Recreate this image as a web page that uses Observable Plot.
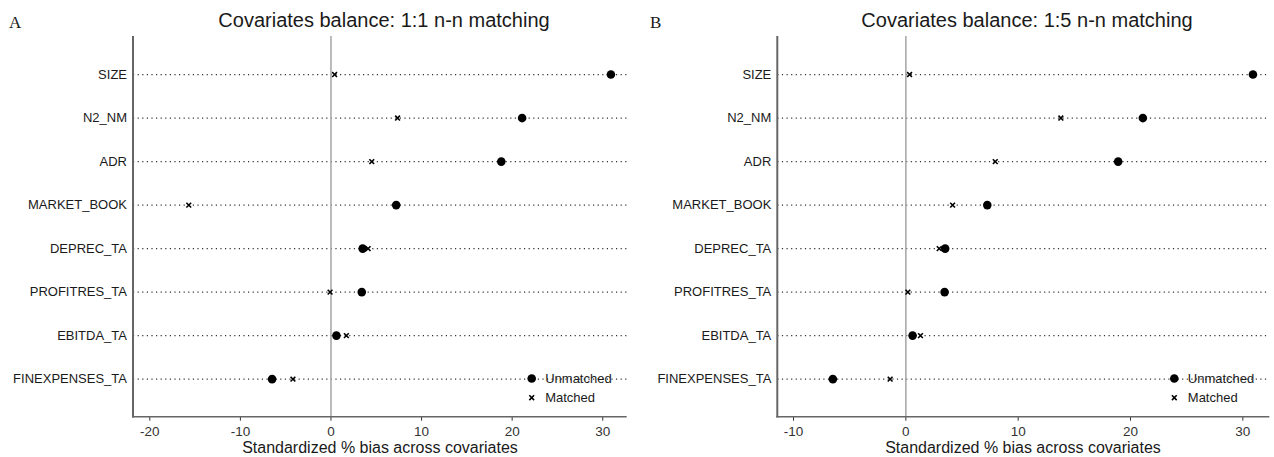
<!DOCTYPE html>
<html>
<head>
<meta charset="utf-8">
<script src="https://cdn.jsdelivr.net/npm/d3@7"></script>
<script src="https://cdn.jsdelivr.net/npm/@observablehq/plot@0.6"></script>
<style>
  html, body { margin: 0; padding: 0; background: #fff; }
  #wrap { position: relative; width: 1274px; height: 457px; overflow: hidden; background: #fff; }
  .panel { position: absolute; top: 0; }
  #overlay { position: absolute; left: 0; top: 0; pointer-events: none; }
</style>
</head>
<body>
<div id="wrap">
  <div class="panel" id="pA" style="left:0px"></div>
  <div class="panel" id="pB" style="left:637px"></div>
  <svg id="overlay" width="1274" height="457"></svg>
</div>
<script>
// ---- data ----
const covariates = ["SIZE", "N2_NM", "ADR", "MARKET_BOOK", "DEPREC_TA", "PROFITRES_TA", "EBITDA_TA", "FINEXPENSES_TA"];

// Panel A: 1:1 n-n matching
const unmatchedA = [30.9, 21.1, 18.8, 7.2, 3.5, 3.4, 0.6, -6.5];
const matchedA   = [0.4, 7.35, 4.5, -15.7, 4.1, -0.1, 1.7, -4.2];
const ticksA = [-20, -10, 0, 10, 20, 30];

// Panel B: 1:5 n-n matching
const unmatchedB = [30.9, 21.1, 18.9, 7.25, 3.5, 3.45, 0.6, -6.5];
const matchedB   = [0.33, 13.8, 7.96, 4.16, 2.97, 0.18, 1.3, -1.4];
const ticksB = [-10, 0, 10, 20, 30];

const titles = ["Covariates balance: 1:1 n-n matching", "Covariates balance: 1:5 n-n matching"];
const panelLetters = ["A", "B"];
const xLabel = "Standardized % bias across covariates";
const legendLabels = ["Unmatched", "Matched"];

const FONT = "'Liberation Sans', Arial, Helvetica, sans-serif";

function panel(el, unmatched, matched, ticks, domain, marginLeft, marginRight) {
  const rows = covariates.map((c, i) => ({cat: c, unmatched: unmatched[i], matched: matched[i]}));
  const chart = Plot.plot({
    width: 637,
    height: 457,
    marginTop: 36,
    marginBottom: 40.3,
    marginLeft,
    marginRight,
    style: {fontFamily: FONT, background: "transparent", color: "#1a1a1a", overflow: "visible"},
    x: {domain, label: null},
    y: {type: "point", domain: covariates, padding: 0.875, round: false, label: null},
    marks: [
      Plot.ruleY(covariates, {stroke: "#333", strokeWidth: 1.2, strokeDasharray: "1.2,3.4"}),
      Plot.ruleX([0], {stroke: "#aaa", strokeWidth: 1.6}),
      Plot.axisY({tickSize: 0, tickPadding: 6.5, fontSize: 13, label: null}),
      Plot.axisX({ticks, tickSize: 4, tickPadding: 5, fontSize: 13.5, tickFormat: d => String(d), label: null, color: "#333"}),
      Plot.dot(rows, {x: "unmatched", y: "cat", r: 4.3, fill: "black"}),
      Plot.dot(rows, {x: "matched", y: "cat", r: 2.3, symbol: "times", stroke: "black", strokeWidth: 1.6})
    ]
  });
  const xr = chart.scale("x").range, yr = chart.scale("y").range;
  const svg = d3.select(chart);
  svg.append("line").attr("x1", xr[0]).attr("x2", xr[0]).attr("y1", yr[0]).attr("y2", yr[1] + 0.8)
    .attr("stroke", "#666").attr("stroke-width", 2);
  svg.append("line").attr("x1", xr[0] - 1).attr("x2", xr[1]).attr("y1", yr[1]).attr("y2", yr[1])
    .attr("stroke", "#666").attr("stroke-width", 1.6);
  document.getElementById(el).appendChild(chart);
}

panel("pA", unmatchedA, matchedA, ticksA, [-21.8, 32.7], 133, 10.3);
panel("pB", unmatchedB, matchedB, ticksB, [-11.4, 32.4], 140.3, 4.7);

// ---- overlay texts and legends ----
const ov = d3.select("#overlay");
const titleX = [384, 1027];
const letterX = [9, 650];
const axisTitleX = [380, 1023];
const legendX = [531.7, 1174.3];
for (let i = 0; i < 2; i++) {
  ov.append("text").attr("x", titleX[i]).attr("y", 27).attr("text-anchor", "middle")
    .attr("font-family", FONT).attr("font-size", 20).attr("fill", "#1a1a1a").text(titles[i]);
  ov.append("text").attr("x", letterX[i]).attr("y", 28)
    .attr("font-family", "'Liberation Serif', 'Times New Roman', serif").attr("font-size", 17).attr("fill", "#1a1a1a").text(panelLetters[i]);
  ov.append("text").attr("x", axisTitleX[i]).attr("y", 453).attr("text-anchor", "middle")
    .attr("font-family", FONT).attr("font-size", 16).attr("fill", "#1a1a1a").text(xLabel);
  // legend
  const lx = legendX[i];
  ov.append("circle").attr("cx", lx).attr("cy", 378.5).attr("r", 4.3).attr("fill", "black");
  ov.append("path").attr("d", d3.symbol(d3.symbolTimes, 2.3 * 2.3 * Math.PI)()).attr("transform", `translate(${lx},397.7)`)
    .attr("fill", "none").attr("stroke", "black").attr("stroke-width", 1.6);
  ov.append("text").attr("x", lx + 13.5).attr("y", 378.5).attr("dy", "0.35em")
    .attr("font-family", FONT).attr("font-size", 13).attr("fill", "#1a1a1a").text(legendLabels[0]);
  ov.append("text").attr("x", lx + 13.5).attr("y", 397.7).attr("dy", "0.35em")
    .attr("font-family", FONT).attr("font-size", 13).attr("fill", "#1a1a1a").text(legendLabels[1]);
}
</script>
</body>
</html>
